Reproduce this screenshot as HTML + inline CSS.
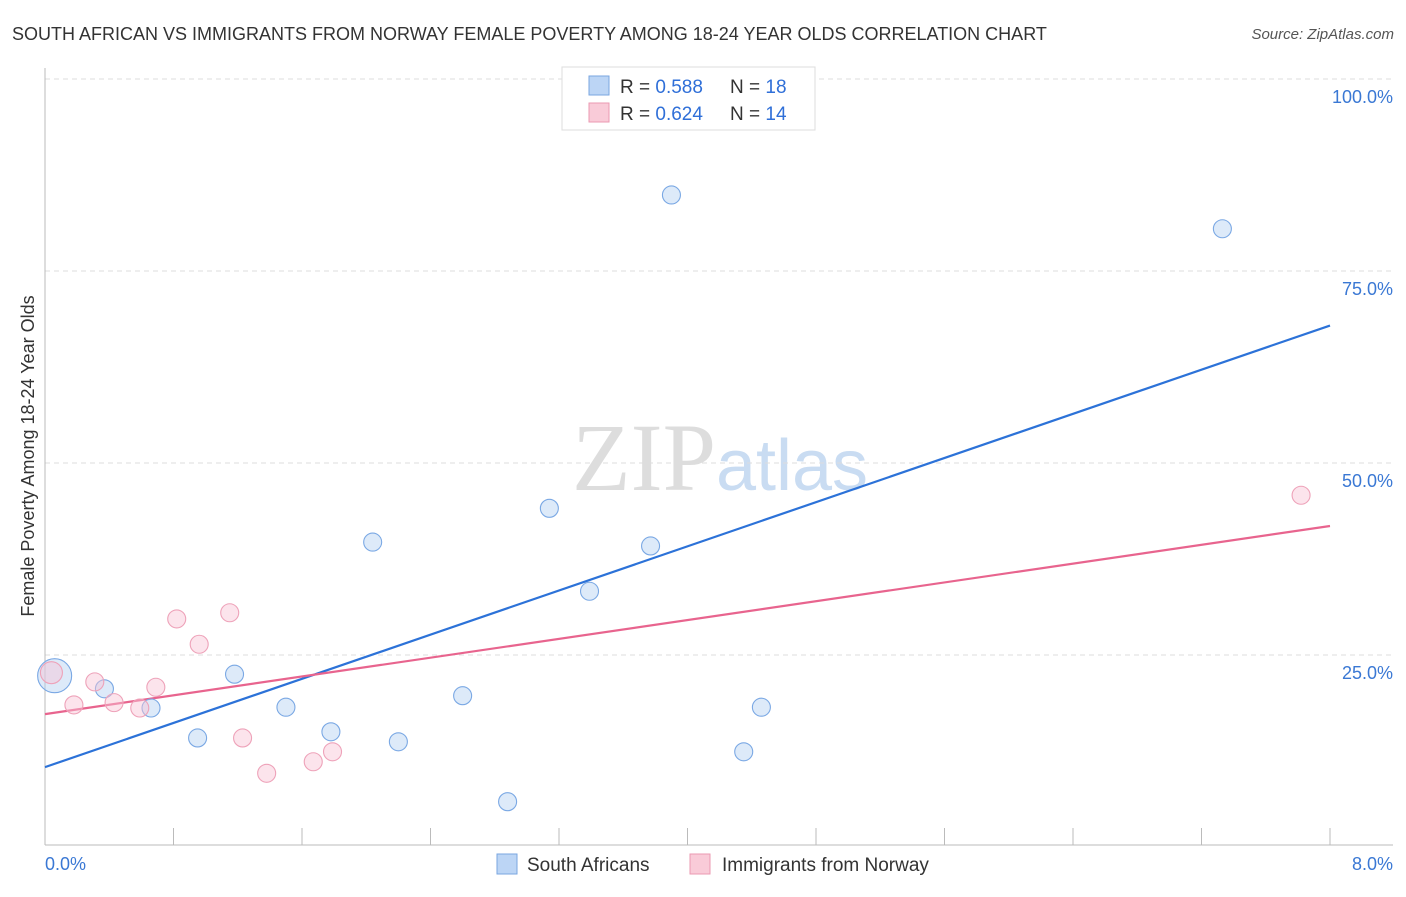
<!DOCTYPE html>
<html><head><meta charset="utf-8"><style>
body{margin:0;background:#fff;font-family:"Liberation Sans",sans-serif}
</style></head><body>
<svg width="1406" height="892" viewBox="0 0 1406 892" id="chart" font-family="Liberation Sans, sans-serif">
<text x="12" y="40" font-size="18" fill="#333">SOUTH AFRICAN VS IMMIGRANTS FROM NORWAY FEMALE POVERTY AMONG 18-24 YEAR OLDS CORRELATION CHART</text>
<text x="1394" y="39" font-size="15" fill="#555" font-style="italic" text-anchor="end">Source: ZipAtlas.com</text>
<text x="720" y="490" font-size="96" fill="#ddd" text-anchor="middle" font-family="Liberation Serif, serif">ZIP<tspan fill="#c9dcf2" font-family="Liberation Sans, sans-serif" font-size="72">atlas</tspan></text>
<text transform="translate(34,456) rotate(-90)" font-size="18" fill="#333" text-anchor="middle">Female Poverty Among 18-24 Year Olds</text>
<g id="grid"></g><g id="lines"></g><g id="pts"></g>
<g>
<rect x="562" y="67" width="253" height="63" fill="#fff" stroke="#ddd"/>
<rect x="589" y="76" width="20" height="19" fill="#bcd5f5" stroke="#7aa6e0"/>
<text x="620" y="93" font-size="19" fill="#333">R = <tspan fill="#2f6fd8">0.588</tspan></text>
<text x="730" y="93" font-size="19" fill="#333">N = <tspan fill="#2f6fd8">18</tspan></text>
<rect x="589" y="103" width="20" height="19" fill="#f9cbd8" stroke="#eb9ab2"/>
<text x="620" y="120" font-size="19" fill="#333">R = <tspan fill="#2f6fd8">0.624</tspan></text>
<text x="730" y="120" font-size="19" fill="#333">N = <tspan fill="#2f6fd8">14</tspan></text>
</g>
<g>
<rect x="497" y="854" width="20" height="20" fill="#bcd5f5" stroke="#7aa6e0"/>
<text x="527" y="871" font-size="19" fill="#333">South Africans</text>
<rect x="690" y="854" width="20" height="20" fill="#f9cbd8" stroke="#eb9ab2"/>
<text x="722" y="871" font-size="19" fill="#333">Immigrants from Norway</text>
</g>
<text x="45" y="870" font-size="18" fill="#3a78d4">0.0%</text>
<text x="1393" y="870" font-size="18" fill="#3a78d4" text-anchor="end">8.0%</text>
</svg>
<script>
const yTicks=[25,50,75,100];
const yTickLabels=["25.0%","50.0%","75.0%","100.0%"];
const xTicks=[0,0.8,1.6,2.4,3.2,4.0,4.8,5.6,6.4,7.2,8.0];
const saX=[0.06,0.37,0.66,0.95,1.18,1.50,1.78,2.04,2.20,2.60,2.88,3.14,3.39,3.77,3.90,4.35,4.46,7.33];
const saY=[22.3,20.6,18.1,14.2,22.5,18.2,15.0,39.7,13.7,19.7,5.9,44.1,33.3,39.2,84.9,12.4,18.2,80.5];
const noX=[0.04,0.18,0.31,0.43,0.59,0.69,0.82,0.96,1.15,1.23,1.38,1.67,1.79,7.82];
const noY=[22.7,18.5,21.5,18.8,18.1,20.8,29.7,26.4,30.5,14.2,9.6,11.1,12.4,45.8];
const saLine=[10.4,67.9];
const noLine=[17.3,41.8];
const X=v=>45+v/8*1285, Y=v=>847-v/100*768;
const NS="http://www.w3.org/2000/svg";
function mk(t,a,p){const e=document.createElementNS(NS,t);for(const k in a)e.setAttribute(k,a[k]);p.appendChild(e);return e;}
const g=document.getElementById('grid');
yTicks.forEach((t,i)=>{
 const l=mk('line',{x1:45,x2:1393,y1:Y(t),y2:Y(t),stroke:'#ddd','stroke-dasharray':'5,4'},g);
 
 
 const tx=mk('text',{x:1393,y:Y(t)+24,'font-size':18,fill:'#3a78d4','text-anchor':'end'},g);
 tx.textContent=yTickLabels[i];
 
 
});
const ax=mk('line',{x1:45,x2:1393,y1:845,y2:845,stroke:'#bbb'},g);


const ay=mk('line',{x1:45,x2:45,y1:68,y2:845,stroke:'#bbb'},g);


xTicks.forEach(t=>{const l=mk('line',{x1:X(t),x2:X(t),y1:828,y2:845,stroke:'#bbb'},g);
 
 });
const L=document.getElementById('lines');
const bl=mk('line',{x1:X(0),x2:X(8),y1:Y(saLine[0]),y2:Y(saLine[1]),stroke:'#2c72d8','stroke-width':2.2},L);


const pl=mk('line',{x1:X(0),x2:X(8),y1:Y(noLine[0]),y2:Y(noLine[1]),stroke:'#e8648e','stroke-width':2.2},L);


const P=document.getElementById('pts');
saX.forEach((x,i)=>{const c=mk('circle',{cx:X(x),cy:Y(saY[i]),r:i==0?17:9,fill:'rgba(180,208,242,0.45)',stroke:'#7aa8e4','stroke-width':1.1},P);
 
 });
noX.forEach((x,i)=>{const c=mk('circle',{cx:X(x),cy:Y(noY[i]),r:i==0?11:9,fill:'rgba(248,196,212,0.45)',stroke:'#eea2b9','stroke-width':1.1},P);
 
 });
</script>
</body></html>
